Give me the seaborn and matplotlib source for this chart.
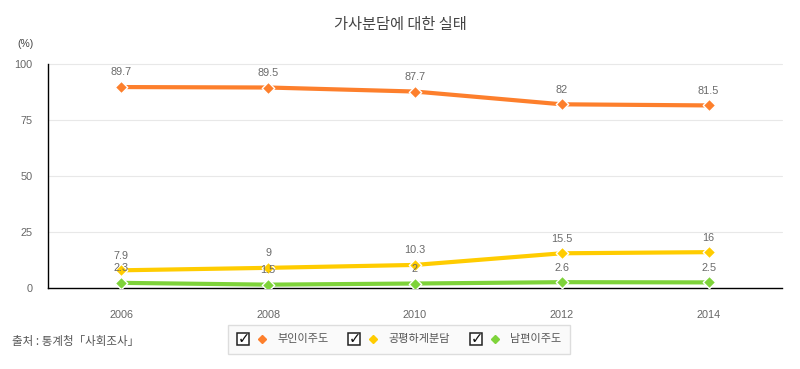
import matplotlib
matplotlib.use("Agg")
import matplotlib.pyplot as plt
import seaborn as sns
import pandas as pd
from matplotlib.patches import Rectangle
from matplotlib.lines import Line2D

years = [2006, 2008, 2010, 2012, 2014]
wife = [89.7, 89.5, 87.7, 82, 81.5]
equal = [7.9, 9, 10.3, 15.5, 16]
husband = [2.3, 1.5, 2, 2.6, 2.5]
series_names = ["부인이주도", "공평하게분담", "남편이주도"]
colors = ["#fd7f2c", "#ffcc00", "#7ed33a"]
y_ticks = [0, 25, 50, 75, 100]
title = "가사분담에 대한 실태"
unit = "(%)"
source = "출처 : 통계청「사회조사」"

rows = []
for name, vals in zip(series_names, [wife, equal, husband]):
    for y, v in zip(years, vals):
        rows.append({"year": y, "value": v, "series": name})
df = pd.DataFrame(rows)

sns.set_theme(style="white")
plt.rcParams["font.family"] = ["Noto Sans CJK KR", "DejaVu Sans"]

fig = plt.figure(figsize=(8, 3.69), dpi=100)
ax = fig.add_axes([0.06, 0.2195, 0.9175, 0.6071])

for yv in y_ticks[1:]:
    ax.axhline(yv, color="#e8e8e8", lw=0.8, zorder=0, clip_on=False)

sns.lineplot(data=df, x="year", y="value", hue="series", palette=colors,
             hue_order=series_names, linewidth=3, ax=ax, legend=False, zorder=3)
for name, vals, c in zip(series_names, [wife, equal, husband], colors):
    sub = df[df["series"] == name]
    sns.scatterplot(data=sub, x="year", y="value", marker="D", s=40, color=c,
                    edgecolor="white", linewidth=1.0, ax=ax, legend=False, zorder=4)

num_font = ["Liberation Sans", "DejaVu Sans"]
for vals in [wife, equal, husband]:
    for y, v in zip(years, vals):
        ax.annotate(f"{v:g}", (y, v), xytext=(0, 10.5), textcoords="offset points",
                    ha="center", va="center", fontsize=7.8, color="#6a6a6a",
                    family=num_font, zorder=5)

ax.set_xlim(2005, 2015)
ax.set_ylim(0, 100)
ax.set_xticks(years)
ax.set_xticklabels([str(y) for y in years], family=num_font, fontsize=7.8, color="#666666")
ax.set_yticks(y_ticks)
ax.set_yticklabels([str(v) for v in y_ticks], family=num_font, fontsize=7.8, color="#666666")
ax.tick_params(axis="x", length=0, pad=16)
ax.tick_params(axis="y", length=0, pad=11)
ax.set_xlabel("")
ax.set_ylabel("")
for s in ["top", "right"]:
    ax.spines[s].set_visible(False)
for s in ["left", "bottom"]:
    ax.spines[s].set_color("black")
    ax.spines[s].set_linewidth(1.0)
ax.grid(False)

fig.text(400 / 800, 1 - 25 / 369, title, ha="center", va="center", fontsize=11, color="#444444")
fig.text(17 / 800, 1 - 44 / 369, unit, ha="left", va="center", fontsize=7.5, color="#444444",
         family=num_font)
fig.text(12 / 800, 1 - 342 / 369, source, ha="left", va="center", fontsize=8.3, color="#555555")

# legend box
W, H = 800, 369
def fx(px):
    return px / W
def fy(py):
    return 1 - py / H

fig.patches.append(Rectangle((fx(228), fy(354)), fx(570) - fx(228), fy(325) - fy(354),
                             transform=fig.transFigure, facecolor="#fafafa",
                             edgecolor="#dddddd", lw=1))
box_x = [237, 348, 470]
for bx, name, c in zip(box_x, series_names, colors):
    fig.patches.append(Rectangle((fx(bx), fy(345)), fx(12), 12 / H,
                                 transform=fig.transFigure, facecolor="white",
                                 edgecolor="#222222", lw=1.1))
    fig.text(fx(bx + 7), fy(339), "✓", ha="center", va="center", fontsize=10.5,
             color="#111111", family=["DejaVu Sans"], fontweight="bold")
    fig.lines.append(Line2D([fx(bx + 25)], [fy(339)], transform=fig.transFigure,
                            marker="D", markersize=4, color=c, markeredgecolor=c))
    fig.text(fx(bx + 40), fy(339), name, ha="left", va="center", fontsize=8, color="#555555")

fig.savefig("out.png", dpi=100)
